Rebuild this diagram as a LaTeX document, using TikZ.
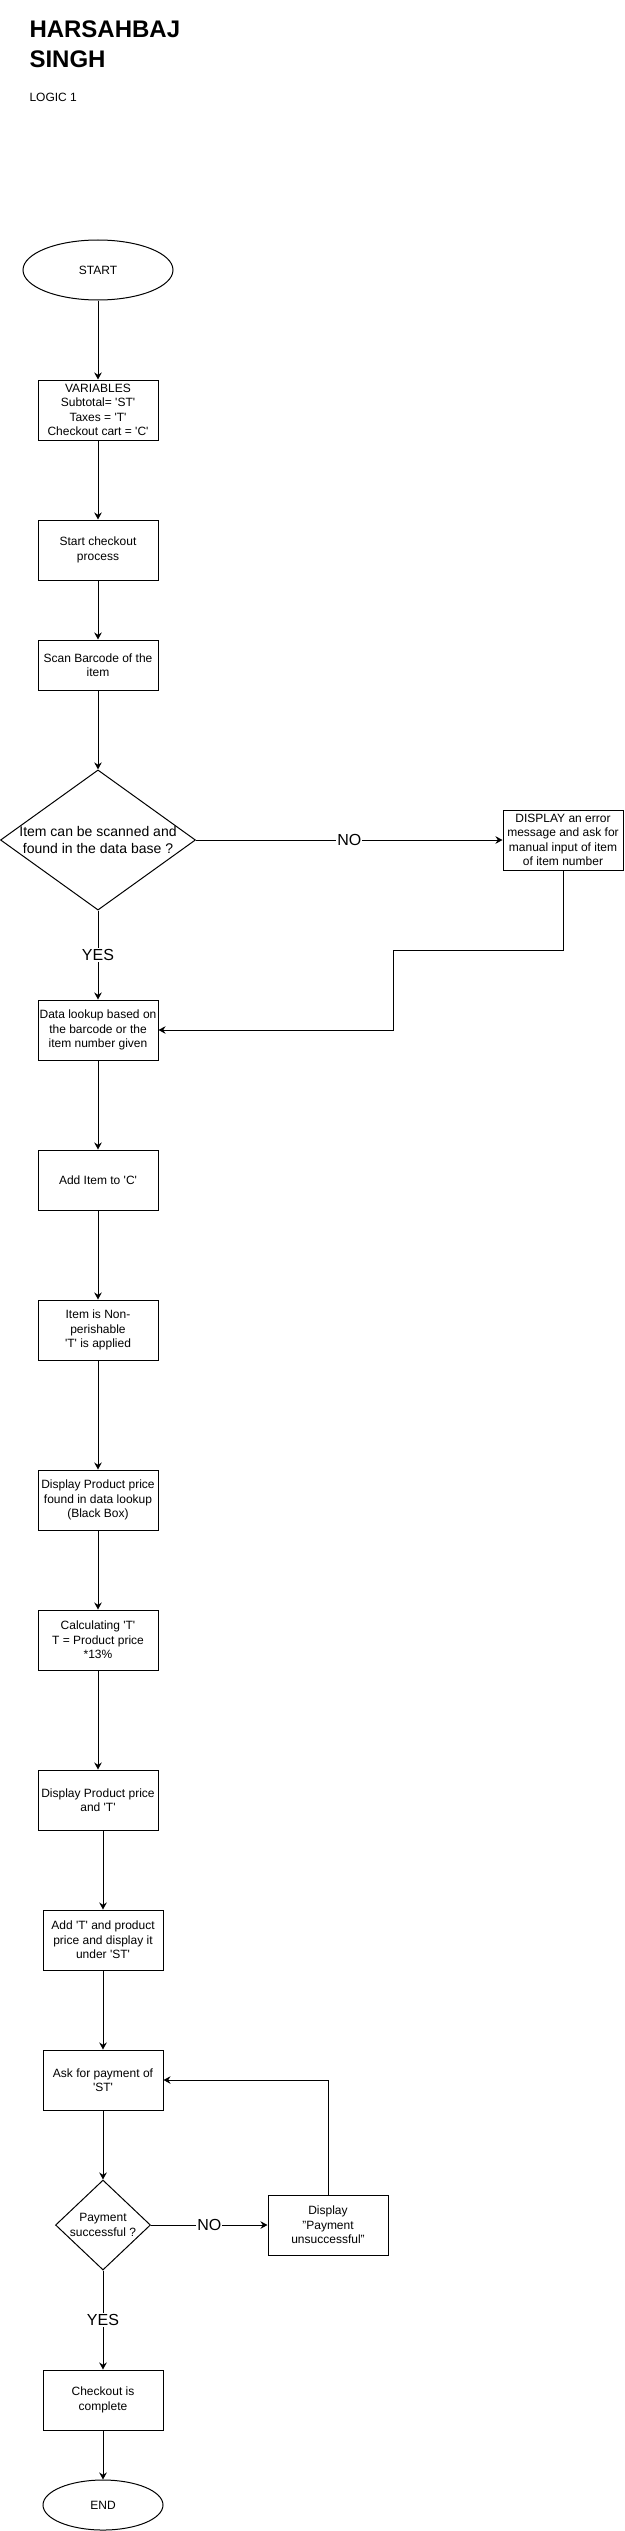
\documentclass[tikz,border=0pt]{standalone}
\usepackage{fontspec}
\setmainfont{Liberation Sans}
\usetikzlibrary{shapes.geometric,arrows.meta}
\newcommand{\apo}{\textquotesingle}

\begin{document}
\begin{tikzpicture}[x=1pt,y=-1pt,line width=1pt,
  box/.style={draw, rectangle, minimum width=120pt, minimum height=60pt, align=center, inner sep=1pt, font=\fontsize{12}{14.4}\selectfont},
  oval/.style={draw, ellipse, minimum width=150pt, minimum height=60pt, font=\fontsize{12}{14.4}\selectfont},
  choice/.style={draw, diamond, inner sep=0pt, align=center},
  lbl/.style={fill=white, inner sep=1pt, font=\fontsize{16}{19}\selectfont},
  arr/.style={-{Stealth[length=7pt,width=7.5pt]}}]
\useasboundingbox (0,0) rectangle (624,2531);

\node[anchor=north west, inner sep=0pt, align=left, font=\fontsize{24}{30}\selectfont\bfseries] (name) at (29,20) {HARSAHBAJ\\SINGH};
\node[anchor=base west, inner sep=0pt, font=\fontsize{12}{14.4}\selectfont] (logic) at (29,102) {LOGIC 1};

\node[oval] (start) at (98,270) {START};
\node[box] (vars) at (98,410) {VARIABLES\\Subtotal= \apo ST\apo\\Taxes = \apo T\apo\\Checkout cart = \apo C\apo};
\node[box] (checkout) at (98,550) {Start checkout\\process};
\node[box, minimum height=50pt] (scan) at (98,665) {Scan Barcode of the\\item};
\node[choice, minimum width=195pt, minimum height=140pt, aspect=1.39, font=\fontsize{14}{16.8}\selectfont] (found) at (98,840) {Item can be scanned and\\found in the data base ?};
\node[box] (error) at (563,840) {DISPLAY an error\\message and ask for\\manual input of item\\of item number};
\node[box] (lookup) at (98,1030) {Data lookup based on\\the barcode or the\\item number given};
\node[box] (addc) at (98,1180) {Add Item to \apo C\apo};
\node[box] (taxed) at (98,1330) {Item is Non-\\perishable\\\apo T\apo\ is applied};
\node[box] (price) at (98,1500) {Display Product price\\found in data lookup\\(Black Box)};
\node[box] (calc) at (98,1640) {Calculating \apo T\apo\\T = Product price\\*13\%};
\node[box] (showt) at (98,1800) {Display Product price\\and \apo T\apo};
\node[box] (addst) at (103,1940) {Add \apo T\apo\ and product\\price and display it\\under \apo ST\apo};
\node[box] (askpay) at (103,2080) {Ask for payment of\\\apo ST\apo};
\node[choice, minimum width=95pt, minimum height=90pt, aspect=1.05, font=\fontsize{12}{14.4}\selectfont] (paid) at (103,2225) {Payment\\successful ?};
\node[box] (unpaid) at (328,2225) {Display\\"Payment\\unsuccessful"};
\node[box] (done) at (103,2400) {Checkout is\\complete};
\node[oval, minimum width=120pt, minimum height=50pt] (stop) at (103,2505) {END};
\coordinate (jog) at (393,950);

\draw[arr] (start) -- (vars);
\draw[arr] (vars) -- (checkout);
\draw[arr] (checkout) -- (scan);
\draw[arr] (scan) -- (found);
\draw[arr] (found.east) -- node[lbl] {NO} (error.west);
\draw[arr] (found.south) -- node[lbl] {YES} (lookup.north);
\draw[arr] (error.south) |- (jog) |- (lookup.east);
\draw[arr] (lookup) -- (addc);
\draw[arr] (addc) -- (taxed);
\draw[arr] (taxed) -- (price);
\draw[arr] (price) -- (calc);
\draw[arr] (calc) -- (showt);
\draw[arr] (addst.north |- showt.south) -- (addst.north);
\draw[arr] (addst) -- (askpay);
\draw[arr] (askpay) -- (paid);
\draw[arr] (paid.east) -- node[lbl] {NO} (unpaid.west);
\draw[arr] (paid.south) -- node[lbl] {YES} (done.north);
\draw[arr] (unpaid.north) |- (askpay.east);
\draw[arr] (done) -- (stop);
\end{tikzpicture}
\end{document}
